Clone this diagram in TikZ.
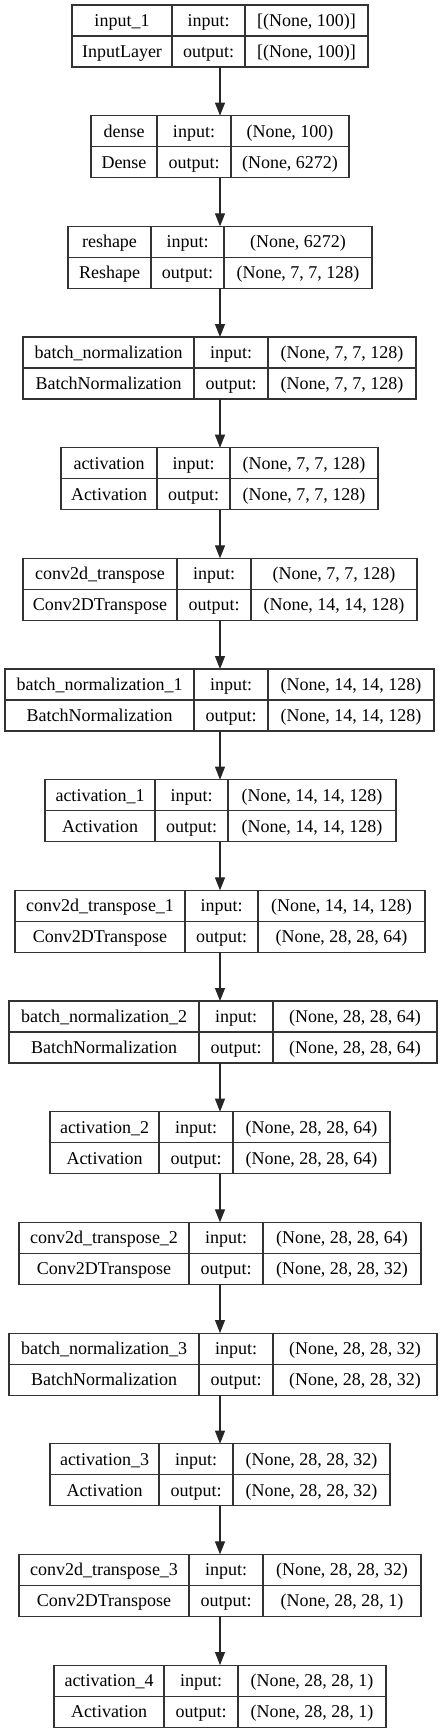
\documentclass[tikz,border=0pt]{standalone}
\usepackage{fontspec}
\setmainfont{Liberation Serif}
\newfontfamily\kerasfont{Liberation Serif}
\usetikzlibrary{arrows.meta}
\tikzset{layerbox/.style={draw=black!80, line width=1.1pt, inner sep=0pt, outer sep=0pt},
         rule/.style={draw=black!80, line width=1.1pt},
         cell/.style={anchor=base, inner sep=0pt, font=\kerasfont\fontsize{18}{20}\selectfont},
         every edge/.style={draw=black!85, line width=1.1pt, % arrows between the layers
           -{Triangle[length=13pt,width=10pt]}}}
\newcount\krow
% one layer: name, left, divider 1, divider 2, right, layer, class, input, output
\newcommand{\kbox}[9]{%
  \pgfmathsetmacro{\ktop}{5+110.67*\krow}%
  \node[layerbox, minimum width={#5-#2}, minimum height=62] (#1) at ({(#2+#5)/2},{\ktop+31}) {};
  \draw[rule] (#1.west) -- (#1.east);
  \draw[rule] ({#3},\ktop) -- ({#3},{\ktop+62});
  \draw[rule] ({#4},\ktop) -- ({#4},{\ktop+62});
  \node[cell] at ({(#2+#3)/2},{\ktop+21.5}) {#6};
  \node[cell] at ({(#2+#3)/2},{\ktop+52.5}) {#7};
  \node[cell] at ({(#3+#4)/2},{\ktop+21.5}) {input:};
  \node[cell] at ({(#3+#4)/2},{\ktop+52.5}) {output:};
  \node[cell] at ({(#4+#5)/2},{\ktop+21.5}) {#8};
  \node[cell] at ({(#4+#5)/2},{\ktop+52.5}) {#9};
  \global\advance\krow by 1\relax}

\begin{document}
\begin{tikzpicture}[x=1pt, y=-1pt]
\useasboundingbox (0,0) rectangle (440,1733);
\coordinate (axis) at (220,0);

\kbox{in}{72}{172}{245}{368}{input\_1}{InputLayer}{[(None, 100)]}{[(None, 100)]}
\kbox{dense}{91}{157}{231}{349}{dense}{Dense}{(None, 100)}{(None, 6272)}
\kbox{resh}{68}{151}{224}{372}{reshape}{Reshape}{(None, 6272)}{(None, 7, 7, 128)}
\kbox{bn}{23}{194}{268}{416}{batch\_normalization}{BatchNormalization}{(None, 7, 7, 128)}{(None, 7, 7, 128)}
\kbox{act}{61}{157}{230}{378}{activation}{Activation}{(None, 7, 7, 128)}{(None, 7, 7, 128)}
\kbox{ct}{23}{177}{251}{417}{conv2d\_transpose}{Conv2DTranspose}{(None, 7, 7, 128)}{(None, 14, 14, 128)}
\kbox{bnA}{5}{194}{268}{434}{batch\_normalization\_1}{BatchNormalization}{(None, 14, 14, 128)}{(None, 14, 14, 128)}
\kbox{actA}{45}{155}{228}{396}{activation\_1}{Activation}{(None, 14, 14, 128)}{(None, 14, 14, 128)}
\kbox{ctA}{15}{185}{258}{425}{conv2d\_transpose\_1}{Conv2DTranspose}{(None, 14, 14, 128)}{(None, 28, 28, 64)}
\kbox{bnB}{9}{199}{273}{437}{batch\_normalization\_2}{BatchNormalization}{(None, 28, 28, 64)}{(None, 28, 28, 64)}
\kbox{actB}{50}{159}{233}{390}{activation\_2}{Activation}{(None, 28, 28, 64)}{(None, 28, 28, 64)}
\kbox{ctB}{19}{189}{263}{421}{conv2d\_transpose\_2}{Conv2DTranspose}{(None, 28, 28, 64)}{(None, 28, 28, 32)}
\kbox{bnC}{9}{199}{273}{437}{batch\_normalization\_3}{BatchNormalization}{(None, 28, 28, 32)}{(None, 28, 28, 32)}
\kbox{actC}{50}{159}{233}{390}{activation\_3}{Activation}{(None, 28, 28, 32)}{(None, 28, 28, 32)}
\kbox{ctC}{19}{189}{263}{421}{conv2d\_transpose\_3}{Conv2DTranspose}{(None, 28, 28, 32)}{(None, 28, 28, 1)}
\kbox{actD}{54}{164}{238}{386}{activation\_4}{Activation}{(None, 28, 28, 1)}{(None, 28, 28, 1)}

\begin{scope}
    \path (in.south -| axis) edge (dense.north -| axis);
    \path (dense.south -| axis) edge (resh.north -| axis);
    \path (resh.south -| axis) edge (bn.north -| axis);
    \path (bn.south -| axis) edge (act.north -| axis);
    \path (act.south -| axis) edge (ct.north -| axis);
    \path (ct.south -| axis) edge (bnA.north -| axis);
    \path (bnA.south -| axis) edge (actA.north -| axis);
    \path (actA.south -| axis) edge (ctA.north -| axis);
    \path (ctA.south -| axis) edge (bnB.north -| axis);
    \path (bnB.south -| axis) edge (actB.north -| axis);
    \path (actB.south -| axis) edge (ctB.north -| axis);
    \path (ctB.south -| axis) edge (bnC.north -| axis);
    \path (bnC.south -| axis) edge (actC.north -| axis);
    \path (actC.south -| axis) edge (ctC.north -| axis);
    \path (ctC.south -| axis) edge (actD.north -| axis);
\end{scope}
\end{tikzpicture}
\end{document}
